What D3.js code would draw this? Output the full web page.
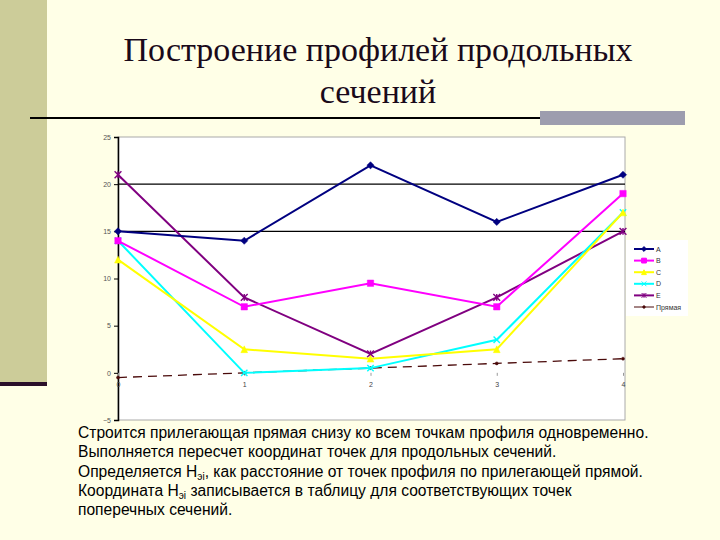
<!DOCTYPE html>
<html>
<head>
<meta charset="utf-8">
<script src="https://cdn.jsdelivr.net/npm/d3@7"></script>
<style>
  body { margin: 0; background: #FFFFE7; }
  svg { display: block; }
</style>
</head>
<body>
<div id="vis"></div>
<script>
// chart data
const CATEGORIES = [0, 1, 2, 3, 4];
const SERIES_NAMES = ["A", "B", "C", "D", "E", "Прямая"];
const A_VALUES = [15, 14, 22, 16, 21];
const B_VALUES = [14, 7, 9.5, 7, 19];
const C_VALUES = [12, 2.5, 1.5, 2.5, 17];
const D_VALUES = [14, 0, 0.5, 3.5, 17];
const E_VALUES = [21, 8, 2, 8, 15];
const LINE_VALUES = [-0.5, 0, 0.5, 1, 1.5];
const Y_TICKS = [-5, 0, 5, 10, 15, 20, 25];
const GRID_TICKS = [15, 20];

const TITLE_LINES = ["Построение профилей продольных", "сечений"];

const FRAME_WIDTH = 720;
const FRAME_HEIGHT = 540;
const PLOT = {left: 118, right: 623, top: 137, bottom: 420};

const SVG = d3.select("#vis")
  .append("svg")
    .attr("width", FRAME_WIDTH)
    .attr("height", FRAME_HEIGHT);

// slide decoration
SVG.append("rect").attr("x", 0).attr("y", 0).attr("width", 47).attr("height", 382)
   .attr("fill", "#CCCC99");
SVG.append("rect").attr("x", 0).attr("y", 382).attr("width", 47).attr("height", 4)
   .attr("fill", "#2A0F2A");
SVG.append("rect").attr("x", 540).attr("y", 111).attr("width", 145).attr("height", 14)
   .attr("fill", "#9D9DAE");
SVG.append("line").attr("x1", 30).attr("x2", 540).attr("y1", 118).attr("y2", 118)
   .attr("stroke", "#000").attr("stroke-width", 2);

// title
SVG.selectAll(".title")
  .data(TITLE_LINES)
  .enter()
  .append("text")
    .attr("x", 378)
    .attr("y", (d, i) => 61 + i * 42)
    .attr("text-anchor", "middle")
    .attr("font-family", "Liberation Serif, Times New Roman, serif")
    .attr("font-size", "34px")
    .attr("fill", "#1a0a1a")
    .text((d) => d);

// scales
const X_SCALE = d3.scalePoint().domain(CATEGORIES).range([PLOT.left, PLOT.right]);
const Y_SCALE = d3.scaleLinear().domain([-5, 25]).range([PLOT.bottom, PLOT.top]);

// plot area
SVG.append("rect")
  .attr("x", PLOT.left).attr("y", PLOT.top)
  .attr("width", PLOT.right + 2 - PLOT.left).attr("height", PLOT.bottom - PLOT.top)
  .attr("fill", "#fff").attr("stroke", "#aaa").attr("stroke-width", 1);

// legend background
SVG.append("rect").attr("x", 626).attr("y", 240).attr("width", 62).attr("height", 76)
   .attr("fill", "#fff");

// gridlines
SVG.selectAll(".grid")
  .data(GRID_TICKS)
  .enter()
  .append("line")
    .attr("x1", PLOT.left).attr("x2", PLOT.right + 2)
    .attr("y1", (d) => Y_SCALE(d)).attr("y2", (d) => Y_SCALE(d))
    .attr("stroke", "#000").attr("stroke-width", 1.2);

// y axis
const yAxis = SVG.append("g")
  .attr("transform", "translate(" + PLOT.left + ",0)")
  .call(d3.axisLeft(Y_SCALE).tickValues(Y_TICKS).tickSize(4).tickFormat(d3.format("d")));
yAxis.select(".domain").attr("stroke", "#000").attr("stroke-width", 1.5);
yAxis.selectAll("text").attr("font-family", "Arial, Liberation Sans, sans-serif")
  .attr("font-size", "7px").attr("fill", "#555");

// x labels along the zero line
const xAxis = SVG.append("g")
  .attr("transform", "translate(0," + Y_SCALE(0) + ")")
  .call(d3.axisBottom(X_SCALE).tickSize(3).tickPadding(6));
xAxis.select(".domain").remove();
xAxis.selectAll("line").attr("stroke", "#999");
xAxis.selectAll("text").attr("font-family", "Arial, Liberation Sans, sans-serif")
  .attr("font-size", "7px").attr("fill", "#444");

// marker shapes
function markerPath(kind, s) {
  if (kind === "diamond") return `M0,${-s}L${s},0L0,${s}L${-s},0Z`;
  if (kind === "square") return `M${-s},${-s}H${s}V${s}H${-s}Z`;
  if (kind === "triangle") return `M0,${-s}L${s},${s}H${-s}Z`;
  if (kind === "x") return `M${-s},${-s}L${s},${s}M${-s},${s}L${s},${-s}`;
  if (kind === "star") return `M${-s},${-s}L${s},${s}M${-s},${s}L${s},${-s}M0,${-s}V${s}`;
  return `M${-s},0A${s},${s} 0 1,0 ${s},0A${s},${s} 0 1,0 ${-s},0`;
}

const SERIES = [
  {name: SERIES_NAMES[0], values: A_VALUES, color: "#000080", marker: "diamond", size: 3.6, dash: null},
  {name: SERIES_NAMES[1], values: B_VALUES, color: "#FF00FF", marker: "square", size: 3.2, dash: null},
  {name: SERIES_NAMES[2], values: C_VALUES, color: "#FFFF00", marker: "triangle", size: 3.4, dash: null},
  {name: SERIES_NAMES[3], values: D_VALUES, color: "#00FFFF", marker: "x", size: 3.2, dash: null},
  {name: SERIES_NAMES[4], values: E_VALUES, color: "#800080", marker: "star", size: 3.4, dash: null},
  {name: SERIES_NAMES[5], values: LINE_VALUES, color: "#4A0A0A", marker: "circle", size: 1.5, dash: "9,6"}
];

const LINE = d3.line()
  .x((d, i) => X_SCALE(CATEGORIES[i]))
  .y((d) => Y_SCALE(d));

// draw series in reverse so A ends on top
SERIES.slice().reverse().forEach((s) => {
  SVG.append("path")
    .datum(s.values)
    .attr("d", LINE)
    .attr("fill", "none")
    .attr("stroke", s.color)
    .attr("stroke-width", s.dash ? 1.3 : 2)
    .attr("stroke-dasharray", s.dash);

  const filled = s.marker !== "x" && s.marker !== "star";
  SVG.selectAll(null)
    .data(s.values)
    .enter()
    .append("path")
      .attr("transform", (d, i) => "translate(" + X_SCALE(CATEGORIES[i]) + "," + Y_SCALE(d) + ")")
      .attr("d", markerPath(s.marker, s.size))
      .attr("fill", filled ? s.color : "none")
      .attr("stroke", s.color)
      .attr("stroke-width", filled ? 0.5 : 1.4);
});

// legend
const LEGEND = SVG.selectAll(".legend")
  .data(SERIES)
  .enter()
  .append("g")
    .attr("transform", (d, i) => "translate(634," + (249 + i * 11.6) + ")");
LEGEND.append("line")
  .attr("x1", 0).attr("x2", 20).attr("y1", 0).attr("y2", 0)
  .attr("stroke", (d) => d.color).attr("stroke-width", (d) => d.dash ? 1 : 2);
LEGEND.append("path")
  .attr("transform", "translate(10,0)")
  .attr("d", (d) => markerPath(d.marker, d.marker === "circle" ? 1.2 : 2.4))
  .attr("fill", (d) => (d.marker === "x" || d.marker === "star") ? "none" : d.color)
  .attr("stroke", (d) => d.color).attr("stroke-width", 1);
LEGEND.append("text")
  .attr("x", 22).attr("y", 2.5)
  .attr("font-family", "Arial, Liberation Sans, sans-serif")
  .attr("font-size", "7px").attr("fill", "#333")
  .text((d) => d.name);

// body text
const BODY = [
  ["Строится прилегающая прямая снизу ко всем точкам профиля одновременно."],
  ["Выполняется пересчет координат точек для продольных сечений."],
  ["Определяется H", "эi", ", как расстояние от точек профиля по прилегающей прямой."],
  ["Координата H", "эi", " записывается в таблицу для соответствующих точек"],
  ["поперечных сечений."]
];
const bodyText = SVG.selectAll(".body")
  .data(BODY)
  .enter()
  .append("text")
    .attr("x", 78)
    .attr("y", (d, i) => 438 + i * 19.3)
    .attr("font-family", "Arial, Liberation Sans, sans-serif")
    .attr("font-size", "15.6px")
    .attr("fill", "#000");
bodyText.each(function (parts) {
  const t = d3.select(this);
  parts.forEach((p, j) => {
    const span = t.append("tspan").text(p);
    if (j === 1) span.attr("font-size", "10px").attr("dy", 3);
    if (j === 2) span.attr("dy", -3);
  });
});
</script>
</body>
</html>
